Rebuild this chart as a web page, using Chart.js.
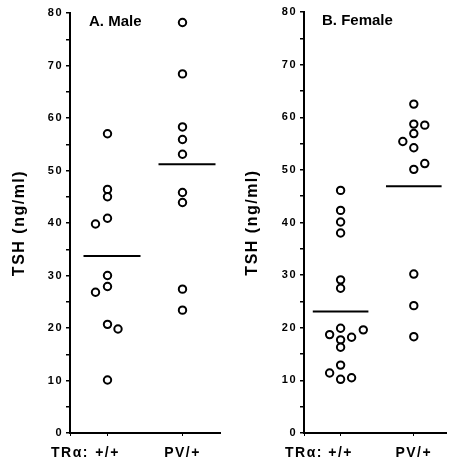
<!DOCTYPE html>
<html>
<head>
<meta charset="utf-8">
<script src="https://cdn.jsdelivr.net/npm/chart.js@4.4.1/dist/chart.umd.min.js"></script>
<style>
    html, body { margin: 0; padding: 0; background: #fff; overflow: hidden; }
    .wrap { display: flex; width: 452px; height: 463px; }
    canvas { display: block; }
</style>
</head>
<body>
<div class="wrap">
    <canvas id="maleChart" width="226" height="463"></canvas>
    <canvas id="femaleChart" width="226" height="463"></canvas>
</div>
<script>
// genotype groups and the label in front of them
const groups = ['+/+', 'PV/+'];
const axisLead = 'TRα:';
const yTitle = 'TSH (ng/ml)';

// A. Male, TSH values and sideways jitter of the circles
const maleWt = [57, 46.4, 45, 40.9, 39.8, 30, 27.9, 26.8, 20.7, 19.8, 10.1];
const maleWtJitter = [0, 0, 0, 0, -0.16, 0, 0, -0.16, 0, 0.14, 0];
const malePv = [78.2, 68.4, 58.3, 55.9, 53.1, 45.8, 43.9, 27.4, 23.4];
const malePvJitter = [0, 0, 0, 0, 0, 0, 0, 0, 0];
const maleMeans = [33.7, 51.2];

// B. Female
const femaleWt = [46.1, 42.3, 40.1, 38, 29.1, 27.5, 19.9, 18.7, 17.7, 18.2, 19.6, 16.3, 12.9, 11.4, 10.2, 10.5];
const femaleWtJitter = [0, 0, 0, 0, 0, 0, 0, -0.15, 0, 0.15, 0.31, 0, 0, -0.15, 0, 0.15];
const femalePv = [62.5, 58.7, 58.5, 56.9, 55.4, 54.2, 50.1, 51.2, 30.2, 24.2, 18.3];
const femalePvJitter = [0, 0, 0.15, 0, -0.15, 0, 0, 0.15, 0, 0, 0];
const femaleMeans = [23.1, 46.9];

const FONT = "'Liberation Sans', Arial, Helvetica, sans-serif";

const spacingPlugin = {
    id: 'spacing',
    beforeDraw(chart) {
        chart.ctx.letterSpacing = '1.5px';
    },
    afterDraw(chart, args, opts) {
        const ctx = chart.ctx;
        ctx.save();
        ctx.letterSpacing = '0px';
        ctx.fillStyle = '#000';
        ctx.font = 'bold 15px ' + FONT;
        ctx.textBaseline = 'alphabetic';
        ctx.fillText(opts.text, chart.chartArea.left + opts.dx, opts.y);
        ctx.restore();
    }
};

function pointsFor(values, jitter, pos) {
    return values.map((v, i) => ({ x: pos + jitter[i], y: v }));
}

function meanLine(value, pos, shift) {
    return {
        type: 'line',
        data: [{ x: pos + shift - 0.38, y: value }, { x: pos + shift + 0.38, y: value }],
        borderColor: '#000',
        borderWidth: 2,
        pointRadius: 0,
        showLine: true
    };
}

function makePanel(id, title, wt, wtJitter, pv, pvJitter, means, cfg) {
    const tickPos = [0.5].concat(groups.map((g, i) => i + 1));
    const tickText = [axisLead].concat(groups);
    const circle = {
        pointRadius: 3.7,
        pointBorderWidth: 2,
        pointBorderColor: '#000',
        pointBackgroundColor: '#fff',
        showLine: false
    };

    return new Chart(document.getElementById(id), {
        type: 'scatter',
        data: {
            datasets: [
                Object.assign({ data: pointsFor(wt, wtJitter, 1) }, circle),
                Object.assign({ data: pointsFor(pv, pvJitter, 2) }, circle),
                meanLine(means[0], 1, cfg.shift),
                meanLine(means[1], 2, cfg.shift)
            ]
        },
        options: {
            responsive: false,
            animation: false,
            events: [],
            layout: { padding: { top: cfg.top, right: cfg.right, left: 0, bottom: 0 } },
            plugins: {
                legend: { display: false },
                tooltip: { enabled: false },
                spacing: { text: title, dx: cfg.titleDx, y: cfg.titleY }
            },
            scales: {
                x: {
                    type: 'linear',
                    min: 0.5,
                    max: cfg.xMax,
                    afterBuildTicks: axis => {
                        axis.ticks = tickPos.map(v => ({ value: v }));
                    },
                    afterFit: scale => { scale.height = 30; },
                    ticks: {
                        autoSkip: false,
                        maxRotation: 0,
                        padding: 9,
                        color: '#000',
                        font: { family: FONT, size: 14, weight: 'bold' },
                        callback: v => tickText[tickPos.indexOf(v)]
                    },
                    grid: { drawOnChartArea: false, tickLength: 3, color: '#000', lineWidth: 1 },
                    border: { color: '#000', width: 2 }
                },
                y: {
                    min: 0,
                    max: 80,
                    afterFit: scale => { scale.width = cfg.yWidth; },
                    ticks: {
                        stepSize: 5,
                        autoSkip: false,
                        padding: 3,
                        color: '#000',
                        font: { family: FONT, size: 11, weight: 'bold' },
                        callback: v => (v % 10 === 0 ? v : '')
                    },
                    grid: { drawOnChartArea: false, tickLength: 4, color: '#000', lineWidth: 1.5 },
                    border: { color: '#000', width: 2 },
                    title: {
                        display: true,
                        text: yTitle,
                        color: '#000',
                        font: { family: FONT, size: 16, weight: 'bold' },
                        padding: { top: cfg.titlePad, bottom: 0 }
                    }
                }
            }
        },
        plugins: [spacingPlugin]
    });
}

document.addEventListener('DOMContentLoaded', () => {
    makePanel('maleChart', 'A. Male', maleWt, maleWtJitter, malePv, malePvJitter, maleMeans,
        { top: 13, right: 2, xMax: 2.5, yWidth: 70, titlePad: 10, titleDx: 19, titleY: 26, shift: 0.06 });
    makePanel('femaleChart', 'B. Female', femaleWt, femaleWtJitter, femalePv, femalePvJitter, femaleMeans,
        { top: 12, right: 0, xMax: 2.44, yWidth: 78, titlePad: 17, titleDx: 18, titleY: 25, shift: 0 });
});
</script>
</body>
</html>
